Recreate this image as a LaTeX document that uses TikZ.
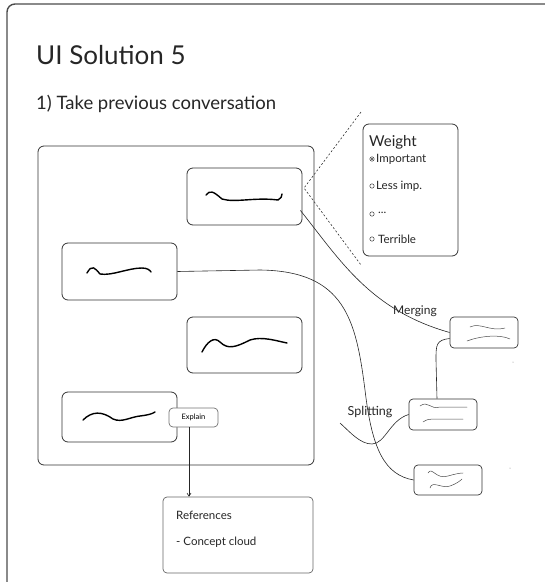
\documentclass[tikz,border=0pt]{standalone}
\usepackage{fontspec}
\setmainfont{Lato}
\usetikzlibrary{calc,arrows.meta}
\begin{document}
\begin{tikzpicture}[x=1pt,y=-1pt,
  card/.style={draw=black!80,line width=0.8pt,rounded corners=6pt,minimum width=#1,inner sep=0pt},
  smallcard/.style={draw=black!80,line width=0.7pt,rounded corners=4pt,inner sep=0pt},
  wire/.style={draw=black!85,line width=0.6pt},
  scribble/.style={draw=black,line width=1.4pt,line cap=round,line join=round},
  thinscribble/.style={draw=black!70,line width=0.5pt,line cap=round},
  lbl/.style={inner sep=0pt,anchor=west,text=black!85}
]
\useasboundingbox (0,0) rectangle (545,582);

% outer sheet frame
\draw[black!70,line width=1.4pt,rounded corners=8pt] (548,4) -- (7,4) -- (7,590);

% headings
\node[lbl,font=\fontsize{26}{28}\selectfont] (title) at (36,55) {UI Solution 5};
\node[lbl,font=\fontsize{18.5}{20}\selectfont] (step1) at (36,104) {1) Take previous conversation};

% conversation panel and its message cards
\node[card=276pt,minimum height=319pt] (panel) at (176,305.5) {};
\node[card=115pt,minimum height=57pt] (boxA) at (244.5,196.5) {};
\node[card=115pt,minimum height=57pt] (boxB) at (119.5,271.5) {};
\node[card=115pt,minimum height=56pt] (boxC) at (244.5,345) {};
\node[card=115pt,minimum height=50pt] (boxD) at (119.5,417) {};

% scribbled message contents
\draw[scribble] (206,195) .. controls (210,190) and (213,191) .. (222,199)
  .. controls (235,203) and (255,197) .. (278,200) .. controls (281,199) and (282,196) .. (282,194);
\draw[scribble] (87,273) .. controls (92,264) and (95,268) .. (100,274)
  .. controls (112,276) and (128,268) .. (142,268) .. controls (147,268) and (150,270) .. (151,272);
\draw[scribble] (202,352) .. controls (207,342) and (214,336) .. (220,342)
  .. controls (228,350) and (236,347) .. (250,340) .. controls (262,336) and (277,341) .. (287,343);
\draw[scribble] (83,420) .. controls (92,411) and (102,411) .. (113,419)
  .. controls (122,423) and (130,417) .. (140,416) .. controls (148,415) and (152,414) .. (155,412);

% explain button
\node[smallcard,fill=white,draw=black!55,minimum width=49pt,minimum height=19pt,
  font=\fontsize{7.5}{8}\selectfont] (explain) at (193.5,417.5) {Explain};

% weight popup
\node[card=95pt,minimum height=132pt] (weight) at (410.5,190) {};
\node[lbl,font=\fontsize{15}{17}\selectfont] (wtitle) at (369,142) {Weight};
\draw[black!80,line width=0.5pt] (372,159) circle (2.2);
\fill[black!80] (372,159) circle (1.1);
\node[lbl,font=\fontsize{11.5}{13}\selectfont] (w1) at (376,159) {Important};
\draw[black!80,line width=0.5pt] (372,186) circle (2.2);
\node[lbl,font=\fontsize{11.5}{13}\selectfont] (w2) at (376,186) {Less imp.};
\draw[black!80,line width=0.5pt] (372,214) circle (2.2);
\node[lbl,font=\fontsize{11.5}{13}\selectfont] (w3) at (378,213) {...};
\draw[black!80,line width=0.5pt] (372,239) circle (2.2);
\node[lbl,font=\fontsize{11.5}{13}\selectfont] (w4) at (378,239) {Terrible};

% zoom-out wedge from the selected card to the popup
\coordinate (tip) at (304,188);
\coordinate (dtop) at (361,112);
\coordinate (dbot) at (361,265);
\draw[black!80,line width=0.6pt,dash pattern=on 2pt off 2pt] (dtop) -- (tip) -- (dbot);

% merged / split result cards
\node[smallcard,minimum width=68pt,minimum height=31pt] (merge) at (484,332.5) {};
\node[smallcard,minimum width=68pt,minimum height=31pt] (split) at (443,414.5) {};
\node[smallcard,minimum width=68pt,minimum height=30pt] (lower) at (448,480) {};
\draw[thinscribble] (470,327) .. controls (480,322) and (490,332) .. (505,328);
\draw[thinscribble] (467,341) .. controls (480,336) and (500,334) .. (510,339);
\draw[thinscribble] (420,406) .. controls (428,400) and (430,410) .. (440,407) -- (467,407);
\draw[thinscribble] (423,422) .. controls (430,417) and (435,420) .. (445,419) -- (463,419);
\draw[thinscribble] (428,473) .. controls (432,466) and (436,480) .. (448,476) .. controls (455,474) and (460,473) .. (463,473);
\draw[thinscribble] (430,488) .. controls (432,480) and (442,489) .. (450,486) .. controls (456,484) and (460,481) .. (462,479);

% connectors
\draw[wire] ($(boxA.south east)+(-2,-15)$) .. controls (340,260) and (370,310) .. (merge.west);
\node[font=\fontsize{12}{14}\selectfont,inner sep=0pt,text=black!85] (mlabel) at (415,311) {Merging};
\draw[wire] ($(merge.west)+(0,6)$) .. controls (436,340) and (436,345) .. (436,360) -- ($(split.north)+(-6,0)$);
\coordinate (splitend) at (340,423);
\draw[wire] (split.west) .. controls (390,420) and (385,444) .. (372,444)
  .. controls (360,444) and (350,432) .. (splitend);
\node[font=\fontsize{12.5}{14}\selectfont,inner sep=0pt,text=black!85] (slabel) at (370,412) {Splitting};
\draw[wire] (boxB.east) -- (260,270) .. controls (345,271) and (356,320) .. (365,390)
  .. controls (372,450) and (385,475) .. (lower.west);

% references card
\node[smallcard,draw=black!60,minimum width=150pt,minimum height=76pt] (refs) at (238,535) {};
\node[lbl,font=\fontsize{11.5}{13}\selectfont] (rtitle) at (176,515) {References};
\node[lbl,font=\fontsize{11.5}{13}\selectfont] (ritem) at (176,542) {- Concept cloud};
\coordinate (explainfoot) at ($(explain.south)+(-4.5,0)$);
\draw[wire,-{Straight Barb[length=3pt,width=4pt]}] (explainfoot) -- (explainfoot |- refs.north);

% stray marks
\fill[black!50] (513,362) circle (0.5);
\fill[black!50] (510,468) circle (0.5);
\end{tikzpicture}
\end{document}
